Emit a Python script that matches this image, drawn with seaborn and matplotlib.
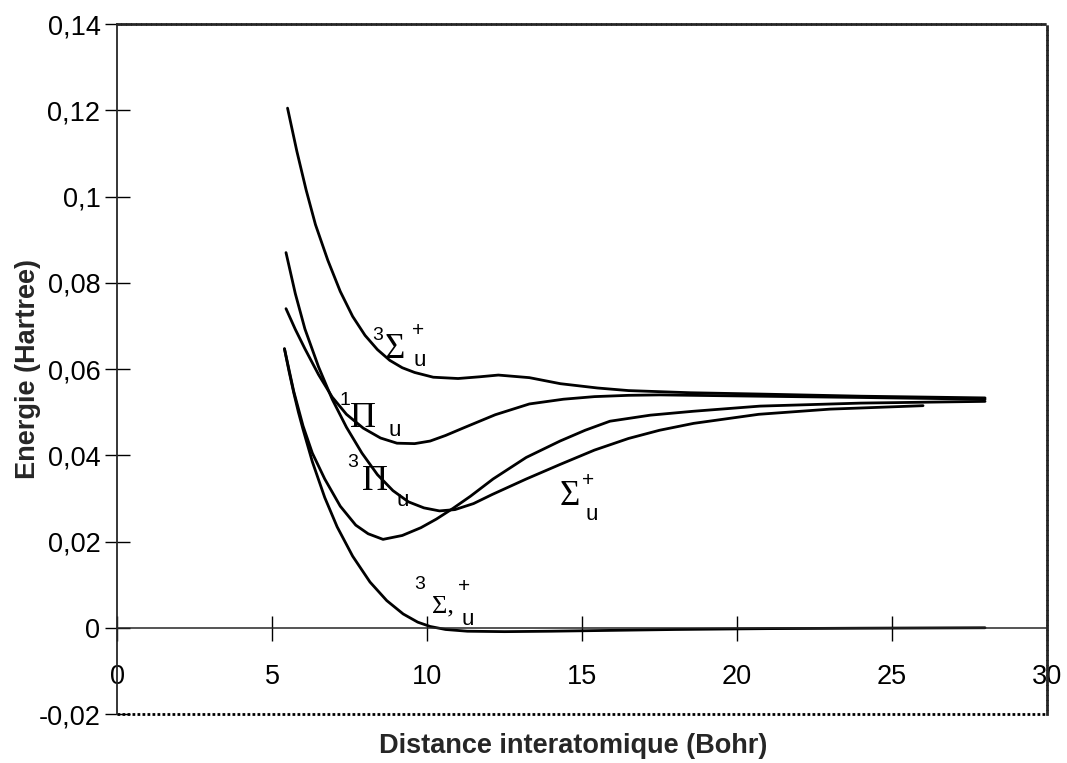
import matplotlib
matplotlib.use("Agg")
import matplotlib.pyplot as plt
import seaborn as sns
import pandas as pd

# =========================
# DONNÉES
# =========================
# 3Sigma_u+ (haut)
A_X = [5.5, 5.8, 6.1, 6.4, 6.8, 7.2, 7.6, 8.0, 8.4, 8.8, 9.2, 9.6, 10.2, 11.0, 11.7,
       12.3, 13.3, 14.3, 15.5, 16.5, 18.5, 20.7, 24.0, 28.0]
A_Y = [0.1205, 0.1105, 0.1015, 0.0935, 0.0852, 0.0780, 0.0722, 0.0678, 0.0645, 0.0620,
       0.0603, 0.0592, 0.0581, 0.0578, 0.0582, 0.0586, 0.0580, 0.0566, 0.0556, 0.0550,
       0.0545, 0.0542, 0.0537, 0.0533]

# 3Pi_u
B_X = [5.45, 5.75, 6.06, 6.5, 6.94, 7.4, 7.9, 8.4, 8.9, 9.4, 9.9, 10.4, 10.9, 11.5,
       12.1, 13.2, 14.3, 15.4, 16.5, 17.5, 18.6, 20.7, 23.0, 26.0]
B_Y = [0.0870, 0.0775, 0.0693, 0.0605, 0.0530, 0.0465, 0.0405, 0.0355, 0.0318, 0.0292,
       0.0278, 0.0271, 0.0274, 0.0288, 0.0309, 0.0345, 0.0379, 0.0412, 0.0439, 0.0458,
       0.0474, 0.0495, 0.0507, 0.0515]

# 1Pi_u
C_X = [5.45, 5.75, 6.06, 6.5, 6.94, 7.4, 7.94, 8.5, 9.03, 9.6, 10.1, 10.6, 11.16,
       12.2, 13.3, 14.4, 15.4, 16.5, 17.5, 20.7, 24.0, 28.0]
C_Y = [0.0740, 0.0692, 0.0647, 0.0587, 0.0535, 0.0495, 0.0463, 0.0440, 0.0428, 0.0427,
       0.0433, 0.0446, 0.0463, 0.0494, 0.0519, 0.0530, 0.0536, 0.0539, 0.0540, 0.0537,
       0.0534, 0.0530]

# Sigma_u+ (minimum ~0,02)
D_X = [5.4, 5.7, 6.0, 6.3, 6.7, 7.2, 7.7, 8.1, 8.58, 9.2, 9.8, 10.3, 10.84, 11.4,
       12.13, 13.2, 14.29, 15.1, 15.9, 17.2, 18.58, 20.74, 24.0, 28.0]
D_Y = [0.0647, 0.0548, 0.0468, 0.0405, 0.0345, 0.0282, 0.0238, 0.0218, 0.0205, 0.0214,
       0.0232, 0.0252, 0.0277, 0.0305, 0.0345, 0.0395, 0.0433, 0.0458, 0.0479, 0.0493,
       0.0502, 0.0514, 0.0521, 0.0525]

# 3Sigma_u+ (bas)
E_X = [5.4, 5.55, 5.7, 5.85, 6.0, 6.3, 6.7, 7.1, 7.6, 8.16, 8.7, 9.23, 9.7, 10.1,
       10.6, 11.3, 12.5, 14.0, 16.0, 18.0, 21.0, 24.0, 28.0]
E_Y = [0.0647, 0.0594, 0.0545, 0.0500, 0.0460, 0.0385, 0.0302, 0.0234, 0.0166, 0.0106,
       0.0063, 0.0032, 0.0013, 0.0003, -0.0004, -0.0008, -0.0009, -0.0008, -0.0006,
       -0.0004, -0.0002, -0.0001, 0.0]

X_TICKS = [0, 5, 10, 15, 20, 25, 30]
X_TICK_LABELS = ["0", "5", "10", "15", "20", "25", "30"]
Y_TICKS = [-0.02, 0.0, 0.02, 0.04, 0.06, 0.08, 0.10, 0.12, 0.14]
Y_TICK_LABELS = ["-0,02", "0", "0,02", "0,04", "0,06", "0,08", "0,1", "0,12", "0,14"]

SANS = ["Liberation Sans", "DejaVu Sans"]
SERIF = ["Liberation Serif", "DejaVu Serif"]


def main():
    sns.set_style("white")
    plt.rcParams["font.family"] = SANS

    frames = []
    for name, xs, ys in [("A", A_X, A_Y), ("B", B_X, B_Y), ("C", C_X, C_Y),
                         ("D", D_X, D_Y), ("E", E_X, E_Y)]:
        frames.append(pd.DataFrame({"x": xs, "y": ys, "courbe": name}))
    df = pd.concat(frames, ignore_index=True)

    fig, ax = plt.subplots(figsize=(10.67, 7.63), dpi=100)
    fig.subplots_adjust(left=0.1097, right=0.9813, bottom=0.0642, top=0.9685)

    sns.lineplot(data=df, x="x", y="y", hue="courbe", estimator=None, sort=False,
                 palette=["black"] * 5, lw=2.0, legend=False, ax=ax)

    ax.set_xlim(0, 30)
    ax.set_ylim(-0.02, 0.14)

    # axes / cadre façon Excel
    ax.spines["left"].set_linewidth(1.3)
    ax.spines["bottom"].set_position(("data", 0))
    ax.spines["bottom"].set_linewidth(1.1)
    for s in ["top", "right"]:
        ax.spines[s].set_linestyle((0, (1, 0.8)))
        ax.spines[s].set_linewidth(2.0)
    ax.plot([0, 30], [-0.02, -0.02], color="black", ls=(0, (1, 0.8)), lw=2.0,
            clip_on=False)

    ax.set_xticks(X_TICKS)
    ax.set_xticklabels(X_TICK_LABELS)
    ax.set_yticks(Y_TICKS)
    ax.set_yticklabels(Y_TICK_LABELS)
    ax.tick_params(axis="x", bottom=True, direction="inout", length=18, width=1,
                   pad=17, labelsize=19.5, colors="black")
    ax.tick_params(axis="y", left=True, direction="inout", length=18, width=1,
                   pad=3, labelsize=19.5, colors="black")

    ax.set_xlabel("Distance interatomique (Bohr)", fontsize=19.5, fontweight="bold")
    ax.xaxis.set_label_coords(0.49, -0.028)
    ax.set_ylabel("Energie (Hartree)", fontsize=19.5, fontweight="bold")
    ax.yaxis.set_label_coords(-0.082, 0.50)

    # étiquettes des états
    def lab(x, y, s, size, fam=SANS):
        ax.text(x, y, s, fontsize=size, family=fam, ha="center", va="center",
                color="black")

    lab(8.42, 0.0677, "3", 14)
    lab(8.95, 0.0645, "Σ", 25, SERIF)
    lab(9.71, 0.0690, "+", 15)
    lab(9.77, 0.0620, "u", 16)

    lab(7.35, 0.0528, "1", 14)
    lab(7.94, 0.0486, "Π", 26, SERIF)
    lab(8.97, 0.0458, "u", 16)

    lab(7.61, 0.0383, "3", 14)
    lab(8.32, 0.0340, "Π", 26, SERIF)
    lab(9.23, 0.0296, "u", 16)

    lab(14.6, 0.0305, "Σ", 25, SERIF)
    lab(15.2, 0.0342, "+", 15)
    lab(15.3, 0.0262, "u", 16)

    lab(9.77, 0.0100, "3", 14)
    lab(10.5, 0.0050, "Σ,", 19, SERIF)
    lab(11.2, 0.0095, "+", 15)
    lab(11.3, 0.0019, "u", 16)

    plt.savefig("out.png", dpi=100)
    plt.close()


if __name__ == "__main__":
    main()
